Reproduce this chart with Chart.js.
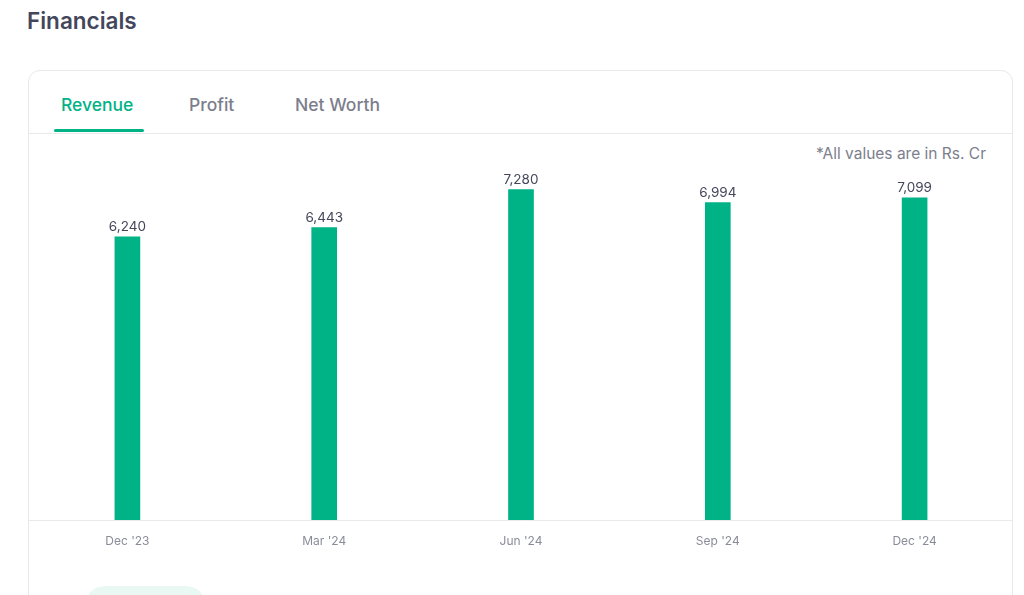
<!DOCTYPE html>
<html>
<head>
<meta charset="utf-8">
<script src="https://cdn.jsdelivr.net/npm/chart.js@4.4.1/dist/chart.umd.min.js"></script>
<style>
  body { margin: 0; background: #fff; font-family: Inter, "Noto Sans", sans-serif; width: 1024px; height: 595px; overflow: hidden; position: relative; }
  .title { position: absolute; left: 27px; top: 7px; font-size: 22.5px; font-weight: 600; color: #44475b; letter-spacing: 0; }
  .card { position: absolute; left: 28px; top: 70px; width: 983px; height: 600px; border: 1px solid #e9e9eb; border-radius: 12px; }
  .tabs { position: absolute; left: 0; top: 0; width: 100%; height: 62px; border-bottom: 1px solid #e9e9eb; }
  .tab { position: absolute; top: 23px; font-size: 17.5px; font-weight: 500; color: #7c7e8c; }
  .tab.active { color: #00b386; }
  .underline { position: absolute; left: 25px; top: 58px; width: 90px; height: 3px; background: #00b386; border-radius: 2px; }
  .note { position: absolute; right: 26px; top: 73px; font-size: 15.5px; color: #7c7e8c; }
  .pill { position: absolute; left: 56px; top: 515px; width: 121px; height: 40px; border-radius: 20px; background: #e9f8f2; }
  #wrap { position: absolute; left: 29px; top: 140px; width: 984px; height: 425px; }
</style>
</head>
<body>
<div class="title">Financials</div>
<div class="card">
  <div class="tabs">
    <div class="tab active" style="left:32px">Revenue</div>
    <div class="tab" style="left:160px">Profit</div>
    <div class="tab" style="left:266px">Net Worth</div>
    <div class="underline"></div>
  </div>
  <div class="note">*All values are in Rs. Cr</div>
  <div class="pill"></div>
</div>
<div id="wrap"><canvas id="mycanvas"></canvas></div>
<script>
var quarters = ["Dec '23", "Mar '24", "Jun '24", "Sep '24", "Dec '24"];
var revenue = [6240, 6443, 7280, 6994, 7099];

// value labels on top of the bars
var valueLabels = {
    id: 'valueLabels',
    afterDatasetsDraw: function (chart) {
        var ctx = chart.ctx;
        var meta = chart.getDatasetMeta(0);
        ctx.save();
        ctx.font = '13.5px Inter, "Noto Sans", sans-serif';
        ctx.fillStyle = '#44475b';
        ctx.textAlign = 'center';
        ctx.textBaseline = 'bottom';
        meta.data.forEach(function (bar, i) {
            ctx.fillText(revenue[i].toLocaleString('en-US'), bar.x, bar.y - 3);
        });
        ctx.restore();
    }
};

var ctx = document.getElementById('mycanvas');
var myBarChart = new Chart(ctx, {
    type: 'bar',
    data: {
        labels: quarters,
        datasets: [{
            label: 'Revenue',
            data: revenue,
            backgroundColor: '#00b386',
            barThickness: 25
        }]
    },
    options: {
        responsive: true,
        maintainAspectRatio: false,
        animation: false,
        layout: { padding: { top: 17, bottom: 2.5, left: 0, right: 0 } },
        plugins: {
            legend: { display: false },
            tooltip: { enabled: false }
        },
        scales: {
            x: {
                grid: { display: false, drawTicks: false },
                border: { display: true, color: '#e9e9eb', width: 1 },
                ticks: {
                    padding: 14,
                    color: '#8a8c99',
                    font: { family: 'Inter, "Noto Sans", sans-serif', size: 12 }
                }
            },
            y: {
                display: false,
                min: 0,
                max: 8000
            }
        }
    },
    plugins: [valueLabels]
});
</script>
</body>
</html>
